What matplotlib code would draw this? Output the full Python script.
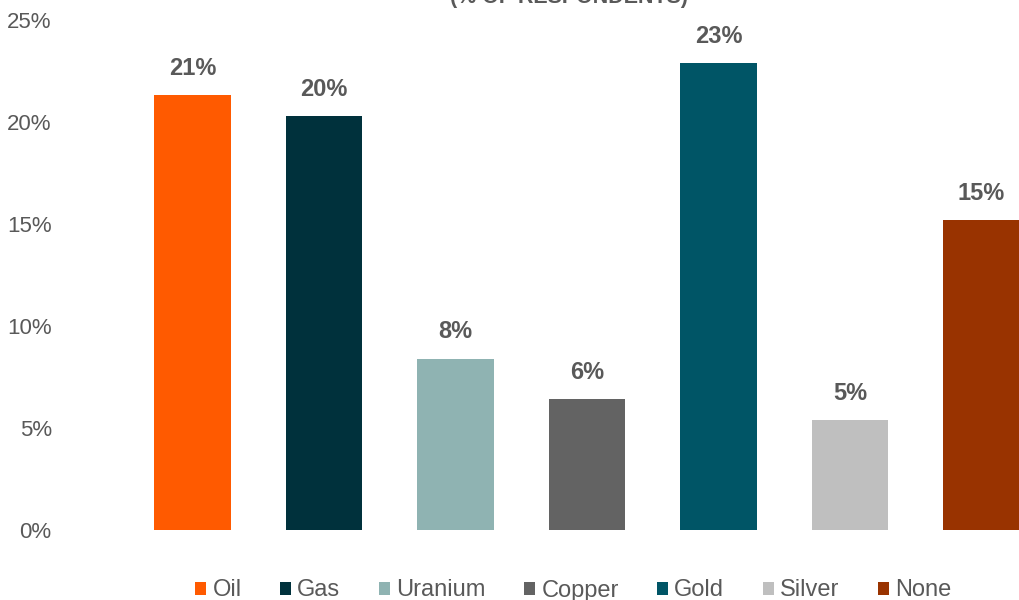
import matplotlib
matplotlib.use("Agg")
import matplotlib.pyplot as plt
from matplotlib.patches import Patch
from matplotlib.ticker import FuncFormatter

categories = ["Oil", "Gas", "Uranium", "Copper", "Gold", "Silver", "None"]
values = [21.3, 20.3, 8.4, 6.4, 22.9, 5.4, 15.2]
labels = ["21%", "20%", "8%", "6%", "23%", "5%", "15%"]
colors = ["#FF5A00", "#00313C", "#8FB3B2", "#636363", "#005566", "#BFBFBF", "#993300"]
yticks = [0, 5, 10, 15, 20, 25]

plt.rcParams['font.family'] = ['Liberation Sans', 'DejaVu Sans']
gray = "#595959"

fig = plt.figure(figsize=(10.2, 6), dpi=100)
ax = fig.add_axes([126.75 / 1020, 70 / 600, 920.5 / 1020, 510 / 600])
x = list(range(len(categories)))
bars = ax.bar(x, values, width=0.585, color=colors)
ax.set_xlim(-0.5, len(categories) - 0.5)
ax.set_ylim(0, 25)
ax.set_yticks(yticks)
ax.yaxis.set_major_formatter(FuncFormatter(lambda v, p: f"{int(v)}%"))
ax.tick_params(axis='y', length=0, pad=54, labelsize=16, labelcolor=gray)
ax.set_xticks([])
for s in ax.spines.values():
    s.set_visible(False)
for xi, v, lab in zip(x, values, labels):
    ax.annotate(lab, (xi, v), xytext=(0, 11), textcoords='offset points',
                ha='center', va='bottom', fontsize=17, fontweight='bold', color=gray)

fig.text(569 / 1020, 1 - 2.5 / 600, "(% OF RESPONDENTS)", ha='center', va='baseline',
         fontsize=15.5, fontweight='bold', color=gray)

handles = [Patch(facecolor=c, edgecolor='none') for c in colors]
fig.legend(handles, categories, loc='center left', bbox_to_anchor=(195 / 1020, 1 - 590.5 / 600),
           ncol=7, frameon=False, fontsize=17, labelcolor=gray, borderpad=0, borderaxespad=0,
           handlelength=0.47, handleheight=0.47, handletextpad=0.27, columnspacing=1.62)

fig.savefig("out.png", dpi=100)
